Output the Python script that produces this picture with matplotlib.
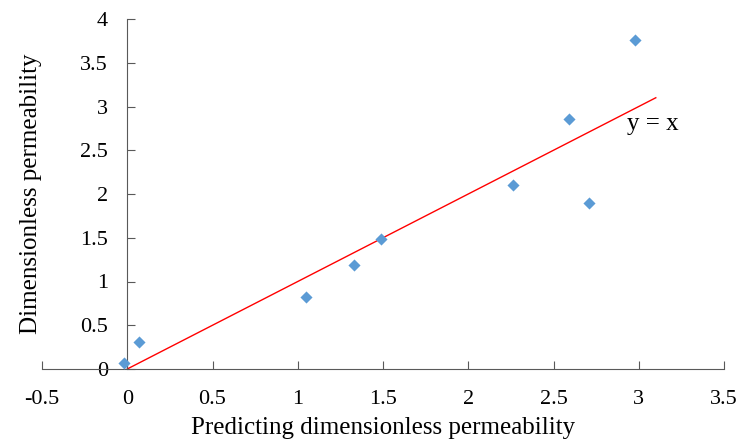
import matplotlib.pyplot as plt
import numpy as np

# measured vs predicted dimensionless permeability
predicted = [-0.02, 0.07, 1.05, 1.33, 1.49, 2.26, 2.59, 2.71, 2.98]
measured = [0.07, 0.31, 0.82, 1.19, 1.49, 2.10, 2.86, 1.90, 3.76]
line_x = [0, 3.1]
line_y = [0, 3.1]

plt.rcParams['font.family'] = ['Liberation Serif', 'DejaVu Serif']

fig = plt.figure(figsize=(7.41, 4.43), dpi=100)
ax = fig.add_axes([42/741, 1-369/443, (724-42)/741, (369-19)/443])

ax.plot(line_x, line_y, color='#FF0000', lw=1.0, zorder=2)
ax.scatter(predicted, measured, marker='D', s=38, color='#5B9BD5', zorder=3, linewidths=0)
ax.text(2.93, 2.8, 'y = x', fontsize=18, va='center', ha='left')

ax.set_xlim(-0.5, 3.5)
ax.set_ylim(0, 4)
ax.set_xticks(np.arange(-0.5, 3.51, 0.5))
ax.set_yticks(np.arange(0, 4.01, 0.5))
ax.set_xticklabels(['-0.5', '0', '0.5', '1', '1.5', '2', '2.5', '3', '3.5'])
ax.set_yticklabels(['0', '0.5', '1', '1.5', '2', '2.5', '3', '3.5', '4'])

ax.spines['top'].set_visible(False)
ax.spines['right'].set_visible(False)
ax.spines['left'].set_position(('data', 0))
ax.spines['left'].set_color('#595959')
ax.spines['bottom'].set_color('#595959')
ax.tick_params(axis='both', direction='in', length=6, color='#595959', labelsize=16)
ax.tick_params(axis='x', pad=15)
ax.tick_params(axis='y', pad=14)

ax.set_xlabel('Predicting dimensionless permeability', fontsize=18, labelpad=6)
ax.set_ylabel('Dimensionless permeability', fontsize=18)
ax.yaxis.set_label_coords(0.0, 0.5)

fig.savefig('out.png', dpi=100)
